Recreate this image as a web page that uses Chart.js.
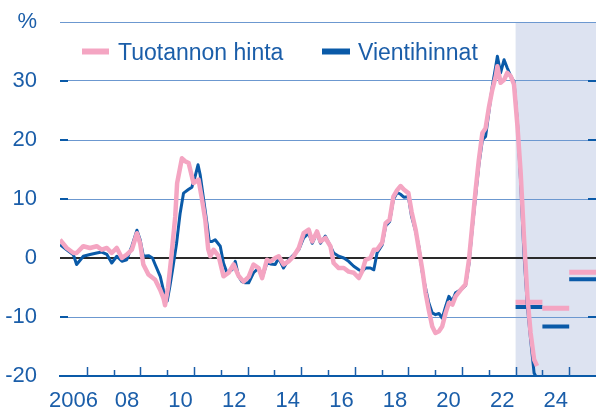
<!DOCTYPE html>
<html>
<head>
<meta charset="utf-8">
<script src="https://cdn.jsdelivr.net/npm/chart.js@4/dist/chart.umd.min.js"></script>
<style>
  html, body { margin: 0; padding: 0; background: #ffffff; }
  #wrap { width: 596px; height: 414px; }
</style>
</head>
<body>
<div id="wrap"><canvas id="c" width="596" height="414"></canvas></div>
<script>
// ---------- DATA ----------
const seriesNames = ['Tuotannon hinta', 'Vientihinnat'];

const pinkYears = [2006.00, 2006.25, 2006.50, 2006.62, 2006.87, 2007.12, 2007.37, 2007.56, 2007.75, 2007.93, 2008.12, 2008.31, 2008.49, 2008.68, 2008.87, 2008.99, 2009.11, 2009.30, 2009.55, 2009.74, 2009.86, 2009.92, 2010.03, 2010.15, 2010.30, 2010.37, 2010.55, 2010.67, 2010.80, 2010.98, 2011.17, 2011.30, 2011.42, 2011.53, 2011.61, 2011.73, 2011.92, 2012.10, 2012.29, 2012.48, 2012.66, 2012.85, 2013.04, 2013.22, 2013.41, 2013.54, 2013.72, 2013.85, 2014.03, 2014.16, 2014.34, 2014.53, 2014.72, 2014.91, 2015.09, 2015.28, 2015.41, 2015.59, 2015.72, 2015.90, 2016.09, 2016.21, 2016.40, 2016.59, 2016.77, 2016.96, 2017.15, 2017.27, 2017.40, 2017.58, 2017.71, 2017.83, 2018.02, 2018.15, 2018.30, 2018.44, 2018.58, 2018.71, 2018.83, 2019.00, 2019.12, 2019.27, 2019.39, 2019.52, 2019.64, 2019.76, 2019.89, 2020.01, 2020.14, 2020.26, 2020.39, 2020.51, 2020.64, 2020.76, 2020.95, 2021.13, 2021.26, 2021.38, 2021.51, 2021.63, 2021.76, 2021.88, 2022.01, 2022.13, 2022.26, 2022.32, 2022.44, 2022.57, 2022.69, 2022.82, 2022.94, 2023.07, 2023.19, 2023.31, 2023.44, 2023.56, 2023.69, 2023.80];
const pinkValues = [3.1, 1.7, 0.85, 0.85, 2.0, 1.7, 2.0, 1.4, 1.7, 0.85, 1.7, 0, 0.56, 1.4, 4.2, 2.5, -1.1, -2.8, -3.7, -5.4, -6.8, -8.0, -5.0, 0, 7.0, 12.7, 16.9, 16.4, 16.1, 12.7, 13.3, 9.9, 6.5, 1.5, 0.3, 1.4, 0.3, -3.1, -2.5, -1.1, -3.0, -4.0, -3.2, -1.1, -1.7, -3.4, -0.3, -0.6, 0, 0.3, -1.1, -0.56, 0.3, 1.7, 4.2, 4.8, 2.8, 4.5, 2.8, 3.4, 2.0, -0.85, -1.7, -1.7, -2.3, -2.5, -3.4, -2.3, -0.3, 0, 1.4, 1.4, 2.6, 5.9, 6.5, 10.4, 11.5, 12.2, 11.6, 11.0, 7.8, 4.8, 1.5, -2.0, -5.9, -8.8, -11.6, -12.7, -12.4, -11.6, -9.3, -7.6, -7.9, -6.5, -5.4, -4.5, -0.3, 5.4, 11.6, 16.7, 21.2, 22.0, 25.7, 28.5, 30.8, 32.5, 29.7, 30.2, 31.4, 30.8, 29.4, 22.3, 14.4, 3.7, -6.5, -12.7, -17.2, -18.3];

const blueYears = [2006.00, 2006.25, 2006.50, 2006.62, 2006.87, 2007.12, 2007.37, 2007.56, 2007.75, 2007.93, 2008.12, 2008.31, 2008.49, 2008.68, 2008.87, 2008.99, 2009.11, 2009.30, 2009.45, 2009.55, 2009.74, 2009.86, 2010.00, 2010.10, 2010.22, 2010.35, 2010.44, 2010.48, 2010.61, 2010.79, 2010.92, 2011.04, 2011.15, 2011.23, 2011.36, 2011.48, 2011.57, 2011.67, 2011.79, 2011.98, 2012.10, 2012.23, 2012.42, 2012.54, 2012.66, 2012.79, 2012.91, 2013.04, 2013.22, 2013.41, 2013.54, 2013.72, 2013.85, 2014.03, 2014.16, 2014.34, 2014.53, 2014.72, 2014.91, 2015.09, 2015.28, 2015.41, 2015.59, 2015.72, 2015.90, 2016.09, 2016.21, 2016.40, 2016.59, 2016.77, 2016.96, 2017.15, 2017.27, 2017.40, 2017.58, 2017.71, 2017.83, 2018.02, 2018.15, 2018.30, 2018.44, 2018.58, 2018.71, 2018.83, 2019.00, 2019.12, 2019.27, 2019.39, 2019.52, 2019.64, 2019.76, 2019.89, 2020.01, 2020.14, 2020.26, 2020.39, 2020.51, 2020.64, 2020.76, 2020.95, 2021.13, 2021.26, 2021.38, 2021.51, 2021.63, 2021.76, 2021.88, 2022.01, 2022.13, 2022.26, 2022.32, 2022.44, 2022.57, 2022.69, 2022.82, 2022.94, 2023.07, 2023.19, 2023.31, 2023.44, 2023.56, 2023.69, 2023.75];
const blueValues = [2.25, 1.4, 0.56, -1.1, 0.3, 0.6, 0.85, 1.0, 0.6, -0.85, 0.3, -0.56, -0.3, 2.0, 4.7, 3.1, 0.3, 0.4, 0.0, -1.1, -3.1, -5.5, -7.3, -4.8, -1.4, 2.5, 6.0, 7.5, 11.0, 11.6, 12.0, 13.8, 15.8, 14.1, 9.9, 6.0, 2.8, 2.8, 3.1, 2.0, -0.85, -2.5, -2.0, -0.56, -3.1, -4.0, -4.2, -4.2, -2.5, -1.7, -3.4, -0.85, -1.0, -1.1, 0, -1.7, -0.3, 0.56, 1.4, 3.4, 4.2, 2.5, 4.2, 2.5, 3.7, 2.0, 0.85, 0.3, 0, -0.56, -1.4, -2.0, -2.3, -1.7, -1.7, -2.0, 0.85, 2.2, 5.4, 6.2, 9.9, 11.1, 10.8, 10.3, 10.4, 7.0, 4.5, 2.0, -2.5, -5.1, -7.6, -9.3, -9.6, -9.4, -10.2, -8.2, -6.5, -7.3, -5.9, -5.4, -4.7, -1.0, 4.8, 10.6, 15.8, 20.0, 20.6, 25.0, 29.1, 32.5, 34.2, 31.4, 33.6, 32.2, 30.8, 29.9, 22.9, 12.7, 0.85, -8.2, -13.8, -19.5, -20.0];

// Forecast (annual averages) for 2023, 2024, 2025
const forecastYears = [2023, 2024, 2025];
const pinkForecast = [-7.5, -8.5, -2.4];
const blueForecast = [-8.3, -11.6, -3.6];
const forecastStart = 2023;

const xLabelYears = [2006, 2008, 2010, 2012, 2014, 2016, 2018, 2020, 2022, 2024];
const xTickLabels = ['2006', '08', '10', '12', '14', '16', '18', '20', '22', '24'];
const yTickValues = [-20, -10, 0, 10, 20, 30, 40];
const yTickLabels = ['-20', '-10', '0', '10', '20', '30', '%'];

// ---------- STYLE ----------
const PINK = '#f4a5c2';
const BLUE = '#0a5aa8';
const TEXT = '#1b5ea9';
const GRID = '#6c98d0';
const SHADE = '#dde3f1';
const FONT = '"Liberation Sans", Arial, Helvetica, sans-serif';

function toPoints(xs, ys) { return xs.map((x, i) => ({ x: x, y: ys[i] })); }
function forecastPoints(vals) {
  const pts = [];
  forecastYears.forEach((yr, i) => {
    pts.push({ x: yr, y: vals[i] }, { x: yr + 1, y: vals[i] }, { x: yr + 1, y: null });
  });
  return pts;
}

const decorPlugin = {
  id: 'decor',
  beforeDraw(chart) {
    const { ctx, chartArea: a, scales: { x } } = chart;
    const x0 = x.getPixelForValue(forecastStart);
    ctx.save();
    ctx.fillStyle = SHADE;
    ctx.fillRect(x0, a.top, a.right - x0, a.bottom - a.top);
    ctx.restore();
  },
  afterDraw(chart) {
    const { ctx, chartArea: a, scales: { x, y } } = chart;
    ctx.save();
    // x-axis tick marks (inward)
    ctx.strokeStyle = TEXT;
    ctx.lineWidth = 1.5;
    for (let yr = 2007; yr <= 2025; yr++) {
      const px = Math.round(x.getPixelForValue(yr)) + 0.5;
      const len = (yr % 2 === 1) ? 9 : 6;
      ctx.beginPath();
      ctx.moveTo(px, a.bottom);
      ctx.lineTo(px, a.bottom - len);
      ctx.stroke();
    }
    // y tick marks on both sides
    ctx.strokeStyle = BLUE;
    ctx.lineWidth = 2;
    [-10, 10, 20, 30].forEach(v => {
      const py = Math.round(y.getPixelForValue(v));
      ctx.beginPath();
      ctx.moveTo(a.left, py); ctx.lineTo(a.left + 8, py);
      ctx.moveTo(a.right - 8, py); ctx.lineTo(a.right, py);
      ctx.stroke();
    });
    // legend
    ctx.lineWidth = 6;
    ctx.lineCap = 'butt';
    ctx.strokeStyle = PINK;
    ctx.beginPath(); ctx.moveTo(82, 51.5); ctx.lineTo(109, 51.5); ctx.stroke();
    ctx.strokeStyle = BLUE;
    ctx.beginPath(); ctx.moveTo(322, 51.5); ctx.lineTo(350, 51.5); ctx.stroke();
    ctx.fillStyle = TEXT;
    ctx.font = '23px ' + FONT;
    ctx.textBaseline = 'alphabetic';
    ctx.textAlign = 'left';
    ctx.fillText(seriesNames[0], 118, 59.5);
    ctx.fillText(seriesNames[1], 358, 59.5);
    ctx.restore();
  }
};

new Chart(document.getElementById('c'), {
  type: 'line',
  data: {
    datasets: [
      { label: seriesNames[0], data: toPoints(pinkYears, pinkValues), borderColor: PINK, borderWidth: 4.5, pointRadius: 0, tension: 0, borderJoinStyle: 'round', borderCapStyle: 'butt' },
      { label: seriesNames[1], data: toPoints(blueYears, blueValues), borderColor: BLUE, borderWidth: 3, pointRadius: 0, tension: 0, borderJoinStyle: 'round', borderCapStyle: 'butt' },
      { label: 'pf', data: forecastPoints(pinkForecast), borderColor: PINK, borderWidth: 5, pointRadius: 0, spanGaps: false, borderCapStyle: 'butt' },
      { label: 'bf', data: forecastPoints(blueForecast), borderColor: BLUE, borderWidth: 4, pointRadius: 0, spanGaps: false, borderCapStyle: 'butt' }
    ]
  },
  options: {
    responsive: false,
    animation: false,
    devicePixelRatio: 1,
    layout: { padding: { top: 22, left: 0, right: 0, bottom: 0 } },
    plugins: { legend: { display: false }, tooltip: { enabled: false } },
    scales: {
      x: {
        type: 'linear',
        min: 2006, max: 2026,
        afterBuildTicks: s => { s.ticks = xLabelYears.map(v => ({ value: v + 0.5 })); },
        afterFit: s => { s.height = 38; s.paddingLeft = 0; s.paddingRight = 0; },
        ticks: {
          autoSkip: false, maxRotation: 0, minRotation: 0, padding: 12,
          color: TEXT, font: { family: FONT, size: 22 },
          callback: (v, i) => xTickLabels[i]
        },
        grid: { display: false, drawTicks: false },
        border: { display: true, color: BLUE, width: 2 }
      },
      y: {
        min: -20, max: 40,
        afterBuildTicks: s => { s.ticks = yTickValues.map(v => ({ value: v })); },
        afterFit: s => { s.width = 60; s.paddingTop = 0; s.paddingBottom = 0; },
        ticks: {
          padding: 23, color: TEXT, font: { family: FONT, size: 22 },
          callback: (v, i) => yTickLabels[i]
        },
        grid: {
          drawTicks: false,
          color: c => c.tick.value === 0 ? '#2a2a2a' : (c.tick.value === -20 ? 'rgba(0,0,0,0)' : GRID),
          lineWidth: c => c.tick.value === 0 ? 2 : 1
        },
        border: { display: false }
      }
    }
  },
  plugins: [decorPlugin]
});
</script>
</body>
</html>
